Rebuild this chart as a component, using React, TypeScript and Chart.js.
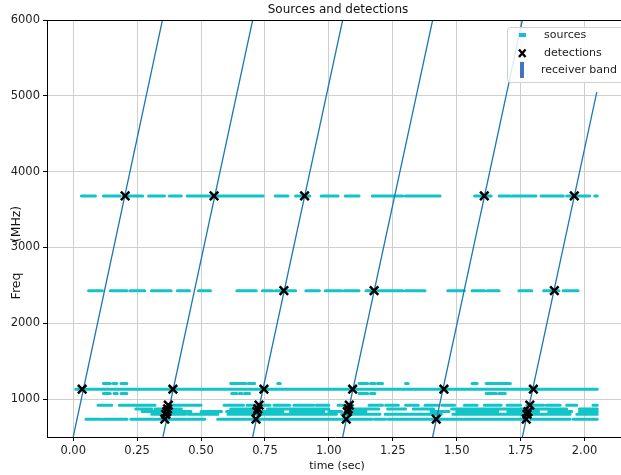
import React, { useEffect, useRef } from 'react';
import { Chart, registerables } from 'chart.js';

Chart.register(...registerables);

const FONT = "'DejaVu Sans', 'Liberation Sans', sans-serif";

// axis ticks
const xTicks = [0, 0.25, 0.5, 0.75, 1.0, 1.25, 1.5, 1.75, 2.0];
const yTicks = [1000, 2000, 3000, 4000, 5000, 6000];

// receiver band sweeps (time sec, freq MHz)
const bandStartT = [0.0, 0.351, 0.702, 1.054, 1.406, 1.757];
const bandStartF = [500, 500, 500, 500, 500, 500];
const bandEndT = [0.349, 0.702, 1.054, 1.406, 1.757, 2.048];
const bandEndF = [6000, 6000, 6000, 6000, 6000, 5050];

// sources: [tStart, tEnd] per frequency row
const row3680 = [[0.032, 0.087], [0.118, 0.183], [0.195, 0.272], [0.295, 0.357], [0.376, 0.423], [0.446, 0.537], [0.55, 0.616], [0.616, 0.743], [0.79, 0.84], [0.87, 0.925], [0.97, 1.036], [1.064, 1.118], [1.17, 1.29], [1.3, 1.435], [1.57, 1.635], [1.666, 1.71], [1.717, 1.81], [1.83, 1.917], [1.93, 2.02], [2.04, 2.05]];
const row2430 = [[0.06, 0.114], [0.145, 0.21], [0.222, 0.28], [0.306, 0.383], [0.407, 0.455], [0.49, 0.537], [0.64, 0.716], [0.74, 0.78], [0.79, 0.87], [0.91, 0.963], [0.986, 1.05], [1.06, 1.118], [1.145, 1.29], [1.3, 1.376], [1.465, 1.53], [1.56, 1.61], [1.62, 1.666], [1.743, 1.794], [1.84, 1.87], [1.875, 1.9], [1.917, 1.975]];
const row1205 = [[0.118, 0.145], [0.156, 0.17], [0.187, 0.21], [0.616, 0.655], [0.66, 0.675], [0.685, 0.71], [0.8, 0.81], [1.118, 1.152], [1.163, 1.18], [1.19, 1.21], [1.3, 1.31], [1.56, 1.58], [1.615, 1.655], [1.66, 1.68], [1.685, 1.71]];
const row1130 = [[0.01, 2.05]];
const row1075 = [[0.118, 0.145], [0.16, 0.172], [0.187, 0.21], [0.62, 0.64], [0.65, 0.66], [0.67, 0.69], [1.118, 1.152], [1.163, 1.18], [1.615, 1.655], [1.665, 1.69]];
const row920 = [[0.097, 0.151], [0.18, 0.23], [0.235, 0.32], [0.384, 0.5], [0.59, 0.666], [0.68, 0.77], [0.785, 0.847], [0.863, 0.94], [0.95, 1.0], [1.036, 1.094], [1.157, 1.21], [1.222, 1.272], [1.3, 1.35], [1.376, 1.427], [1.442, 1.492], [1.53, 1.58], [1.608, 1.674], [1.697, 1.75], [1.774, 1.84], [1.85, 1.905], [1.93, 1.97], [2.033, 2.05]];
const row870 = [[0.245, 0.307], [0.32, 0.36], [0.384, 0.423], [0.616, 0.72], [0.76, 1.0], [1.068, 1.195], [1.23, 1.3], [1.33, 1.41], [1.48, 1.674], [1.68, 1.774], [1.8, 1.93], [1.98, 2.05]];
const row835 = [[0.27, 0.35], [0.37, 0.46], [0.5, 0.58], [0.6, 0.7], [0.72, 0.82], [0.85, 0.98], [1.0, 1.05], [1.07, 1.145], [1.4, 1.47], [1.5, 1.66], [1.7, 1.82], [1.86, 1.95], [1.98, 2.05]];
const row800 = [[0.307, 0.44], [0.45, 0.566], [0.605, 0.72], [0.73, 1.03], [1.05, 1.2], [1.22, 1.44], [1.485, 1.635], [1.64, 1.944], [1.97, 2.05]];
const row735 = [[0.05, 0.112], [0.12, 0.21], [0.225, 0.32], [0.327, 0.44], [0.445, 0.515], [0.565, 0.68], [0.685, 1.0], [1.0, 1.17], [1.18, 1.22], [1.23, 1.34], [1.34, 1.466], [1.47, 1.62], [1.625, 1.774], [1.79, 1.944], [1.956, 2.05]];

const sourceRowFreqs = [3680, 2430, 1205, 1130, 1075, 920, 870, 835, 800, 735];
const sourceRows = [row3680, row2430, row1205, row1130, row1075, row920, row870, row835, row800, row735];

// detections
const detT = [0.035, 0.203, 0.39, 0.551, 0.372, 0.369, 0.366, 0.362, 0.358, 0.746, 0.824, 0.905, 0.727, 0.722, 0.718, 0.715, 1.093, 1.177, 1.08, 1.076, 1.072, 1.068, 1.45, 1.608, 1.42, 1.8, 1.882, 1.96, 1.786, 1.779, 1.775, 1.772];
const detF = [1130, 3680, 1130, 3680, 920, 870, 835, 800, 735, 1130, 2430, 3680, 920, 870, 835, 735, 1130, 2430, 920, 870, 835, 735, 1130, 3680, 735, 1130, 2430, 3680, 920, 835, 800, 735];

const decorPlugin = {
  id: 'decor',
  afterDraw(chart: any) {
    const ctx = chart.ctx as CanvasRenderingContext2D;
    const a = chart.chartArea;
    ctx.save();
    // top spine
    ctx.strokeStyle = '#000';
    ctx.lineWidth = 1;
    ctx.beginPath();
    ctx.moveTo(a.left, a.top + 0.5);
    ctx.lineTo(a.right, a.top + 0.5);
    ctx.stroke();
    // title
    ctx.fillStyle = '#111';
    ctx.textAlign = 'center';
    ctx.textBaseline = 'middle';
    ctx.font = `12px ${FONT}`;
    ctx.fillText('Sources and detections', 338, 10);
    // x label
    ctx.font = `11px ${FONT}`;
    ctx.fillText('time (sec)', 337, 466);
    // y label
    ctx.save();
    ctx.translate(17, 0);
    ctx.rotate(-Math.PI / 2);
    ctx.font = `12.5px ${FONT}`;
    ctx.fillText('Freq', -286, 0);
    ctx.fillText('(MHz)', -224, 0);
    ctx.restore();
    // legend
    const lx = 507, ly = 27, lw = 140, lh = 55;
    ctx.fillStyle = 'rgba(255,255,255,0.85)';
    ctx.strokeStyle = '#d0d0d0';
    ctx.lineWidth = 1;
    ctx.beginPath();
    (ctx as any).roundRect(lx + 0.5, ly + 0.5, lw, lh, 3);
    ctx.fill();
    ctx.stroke();
    // sources marker
    ctx.fillStyle = '#1cb5e8';
    ctx.fillRect(519, 33, 7, 4);
    // detections marker
    ctx.strokeStyle = '#000';
    ctx.lineWidth = 2.4;
    ctx.beginPath();
    ctx.moveTo(519, 49.5); ctx.lineTo(525.5, 57);
    ctx.moveTo(525.5, 49.5); ctx.lineTo(519, 57);
    ctx.stroke();
    // receiver band marker
    ctx.fillStyle = '#4472c4';
    ctx.fillRect(520, 62, 4, 16);
    ctx.fillStyle = '#222';
    ctx.textAlign = 'left';
    ctx.font = `11px ${FONT}`;
    ctx.fillText('sources', 544, 35);
    ctx.fillText('detections', 544, 53);
    ctx.fillText('receiver band', 541, 70);
    ctx.restore();
  },
};

export default function App() {
  const ref = useRef<HTMLCanvasElement>(null);
  useEffect(() => {
    document.body.style.margin = '0';
    const canvas = ref.current!;

    const bandData: any[] = [];
    bandStartT.forEach((t0, i) => {
      bandData.push({ x: t0, y: bandStartF[i] });
      bandData.push({ x: bandEndT[i], y: bandEndF[i] });
      bandData.push({ x: bandEndT[i], y: null });
    });

    const srcData: any[] = [];
    sourceRows.forEach((segs, r) => {
      const f = sourceRowFreqs[r];
      segs.forEach(([t0, t1]) => {
        srcData.push({ x: t0, y: f });
        srcData.push({ x: t1, y: f });
        srcData.push({ x: t1, y: null });
      });
    });

    const detData = detT.map((t, i) => ({ x: t, y: detF[i] }));

    const chart = new Chart(canvas, {
      type: 'scatter',
      data: {
        datasets: [
          {
            label: 'detections',
            data: detData,
            pointStyle: 'crossRot',
            pointRadius: 6,
            pointBorderWidth: 2.5,
            borderColor: '#000',
            backgroundColor: '#000',
            showLine: false,
          } as any,
          {
            label: 'receiver band',
            data: bandData,
            showLine: true,
            spanGaps: false,
            borderColor: '#1f77b4',
            borderWidth: 1.3,
            pointRadius: 0,
          },
          {
            label: 'sources',
            data: srcData,
            showLine: true,
            spanGaps: false,
            borderColor: '#10c4c8',
            borderWidth: 3,
            borderCapStyle: 'round',
            pointRadius: 0,
          },
        ],
      },
      options: {
        responsive: false,
        devicePixelRatio: 1,
        animation: false,
        layout: { padding: { top: 20, right: 1, bottom: 0, left: 0 } },
        plugins: {
          legend: { display: false },
          tooltip: { enabled: false },
          title: { display: false },
        },
        scales: {
          x: {
            type: 'linear',
            min: -0.1025,
            max: 2.1525,
            afterBuildTicks: (s: any) => { s.ticks = xTicks.map((v) => ({ value: v })); },
            afterFit: (s: any) => { s.height = 38; },
            ticks: {
              callback: (v: any) => Number(v).toFixed(2),
              font: { family: FONT, size: 11.5 },
              color: '#222',
              padding: 3,
              maxRotation: 0,
              autoSkip: false,
            },
            grid: { color: '#cfcfcf', lineWidth: 1, tickLength: 4, tickColor: '#000', drawTicks: true },
            border: { color: '#000', width: 1 },
          },
          y: {
            type: 'linear',
            min: 500,
            max: 6000,
            afterBuildTicks: (s: any) => { s.ticks = yTicks.map((v) => ({ value: v })); },
            afterFit: (s: any) => { s.width = 47; },
            ticks: {
              callback: (v: any) => String(v),
              font: { family: FONT, size: 11.5 },
              color: '#222',
              padding: 3,
              autoSkip: false,
            },
            grid: { color: '#cfcfcf', lineWidth: 1, tickLength: 4, tickColor: '#000', drawTicks: true },
            border: { color: '#000', width: 1 },
          },
        },
      },
      plugins: [decorPlugin],
    });
    return () => chart.destroy();
  }, []);

  return (
    <div style={{ width: 621, height: 475, overflow: 'hidden', position: 'relative', background: '#fff' }}>
      <canvas ref={ref} width={632} height={475} style={{ display: 'block', width: 632, height: 475 }} />
    </div>
  );
}
